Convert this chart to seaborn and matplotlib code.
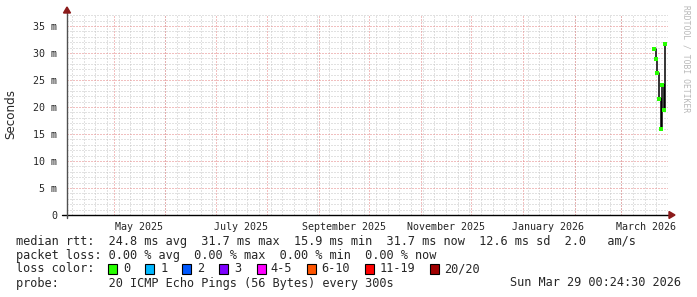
import matplotlib
matplotlib.use("Agg")
import matplotlib.pyplot as plt
from matplotlib.patches import Polygon, Rectangle
import seaborn as sns
import pandas as pd

# ---- data ----
times = ["2026-03-20 15:00", "2026-03-21 19:45", "2026-03-22 10:00", "2026-03-23 15:00",
         "2026-03-24 20:00", "2026-03-25 10:00", "2026-03-26 15:00", "2026-03-27 05:00"]
median_ms = [30.7, 28.9, 26.3, 21.5, 15.9, 24.1, 19.4, 31.7]
y_ticks = [0, 5, 10, 15, 20, 25, 30, 35]
y_ticklabels = ["0", "5 m", "10 m", "15 m", "20 m", "25 m", "30 m", "35 m"]
x_label_months = ["2025-05-01", "2025-07-01", "2025-09-01", "2025-11-01", "2026-01-01", "2026-03-01"]
x_ticklabels = ["May 2025", "July 2025", "September 2025", "November 2025", "January 2026", "March 2026"]
loss_labels = ["0", "1", "2", "3", "4-5", "6-10", "11-19", "20/20"]
loss_colors = ["#26ff00", "#00b8ff", "#0059ff", "#7e00ff", "#ff00ff", "#ff5500", "#ff0000", "#a00000"]
start = pd.Timestamp("2025-04-03 00:24:30")
end = pd.Timestamp("2026-03-29 00:24:30")

sns.set_theme(style="white")
plt.rcParams["font.family"] = ["DejaVu Sans Mono", "DejaVu Sans"]

W, H = 697, 297
fig = plt.figure(figsize=(W / 100, H / 100), dpi=100)
fig.patch.set_facecolor("white")
L, R, T, B = 67, 668, 15, 215
ax = fig.add_axes([L / W, 1 - B / H, (R - L) / W, (B - T) / H])
ax.set_facecolor("white")

df = pd.DataFrame({"t": pd.to_datetime(times), "ms": median_ms})

ax.set_xlim(start, end)
ax.set_ylim(0, 37.04)

# grid (dotted)
minor_c = "#c4c4c4"
major_c = "#e58080"
gkw = dict(lw=0.72, ls=(0, (1, 2)))
for d in pd.date_range(start, end, freq="W-SUN"):
    ax.axvline(d, color=minor_c, zorder=0, **gkw)
for v in range(1, 38):
    if v % 5:
        ax.axhline(v, color=minor_c, zorder=0, **gkw)
month_starts = pd.date_range(start, end, freq="MS")
for d in month_starts:
    ax.axvline(d, color=major_c, zorder=0.5, **gkw)
for v in y_ticks[1:]:
    ax.axhline(v, color=major_c, zorder=0.5, **gkw)

# data
sns.lineplot(data=df, x="t", y="ms", ax=ax, color="black", lw=1.1,
             drawstyle="steps-post", zorder=3, legend=False)
sns.scatterplot(data=df, x="t", y="ms", ax=ax, color="#26ff00", marker="s",
                s=6, linewidth=0, zorder=4, legend=False)

# ticks
for s in ax.spines.values():
    s.set_visible(False)
ax.set_yticks(y_ticks)
ax.set_yticklabels(y_ticklabels, fontsize=7.2)
lab_pos = [pd.Timestamp(m) + pd.Timedelta(days=15) for m in x_label_months]
ax.set_xticks(lab_pos)
ax.set_xticklabels(x_ticklabels, fontsize=7.2)
ax.set_xticks(month_starts, minor=True)
ax.tick_params(axis="x", which="major", length=0, pad=5)
ax.tick_params(axis="x", which="minor", length=2, width=0.7, color="black", direction="out")
ax.tick_params(axis="y", which="major", length=2, width=0.7, color="#404040", pad=5)
ax.set_xlabel("")
ax.set_ylabel("")

def fx(px):
    return (px - L) / (R - L)

def fy(py):
    return (B - py) / (B - T)

# axes lines and arrows
ax.plot([fx(62), fx(670)], [0, 0], transform=ax.transAxes, color="black", lw=1.0,
        clip_on=False, zorder=5)
ax.plot([0, 0], [fy(218), fy(12)], transform=ax.transAxes, color="#505050", lw=1.0,
        clip_on=False, zorder=5)
ax.add_patch(Polygon([(fx(63.5), fy(13)), (fx(70.5), fy(13)), (fx(67), fy(7))],
                     closed=True, transform=ax.transAxes, color="#8b1a1a", clip_on=False, zorder=6))
ax.add_patch(Polygon([(fx(669), fy(211.5)), (fx(669), fy(218.5)), (fx(675), fy(215))],
                     closed=True, transform=ax.transAxes, color="#8b1a1a", clip_on=False, zorder=6))

# y label
fig.text(11 / W, 1 - 114 / H, "Seconds", rotation=90, ha="center", va="center",
         fontsize=8.6, family="DejaVu Sans")

# watermark
fig.text(686 / W, 1 - 5 / H, "RRDTOOL / TOBI OETIKER", rotation=270, ha="center", va="top",
         fontsize=5.8, color="#b8b8b8")

# legend text
fs = 8.6
def ftext(px, py, s, **kw):
    fig.text(px / W, 1 - py / H, s, ha=kw.pop("ha", "left"), va="center", fontsize=fs, **kw)

ftext(16, 241, "median rtt:  24.8 ms avg  31.7 ms max  15.9 ms min  31.7 ms now  12.6 ms sd  2.0   am/s")
ftext(16, 255, "packet loss: 0.00 % avg  0.00 % max  0.00 % min  0.00 % now")
ftext(16, 269, "loss color:")
box_x = [107.6, 145.0, 181.9, 219.3, 256.6, 306.9, 365.1, 430.1]
lab_x = [123.2, 160.1, 197.4, 233.9, 270.8, 321.1, 379.8, 444.2]
for bx, lx, lab, c in zip(box_x, lab_x, loss_labels, loss_colors):
    fig.patches.append(Rectangle((bx / W, 1 - 274 / H), 9 / W, 10 / H, transform=fig.transFigure,
                                 facecolor=c, edgecolor="black", lw=0.8))
    ftext(lx, 269, lab)
ftext(16, 283, "probe:       20 ICMP Echo Pings (56 Bytes) every 300s")
ftext(681, 283, "Sun Mar 29 00:24:30 2026", ha="right")

fig.savefig("out.png", dpi=100, facecolor="white")
